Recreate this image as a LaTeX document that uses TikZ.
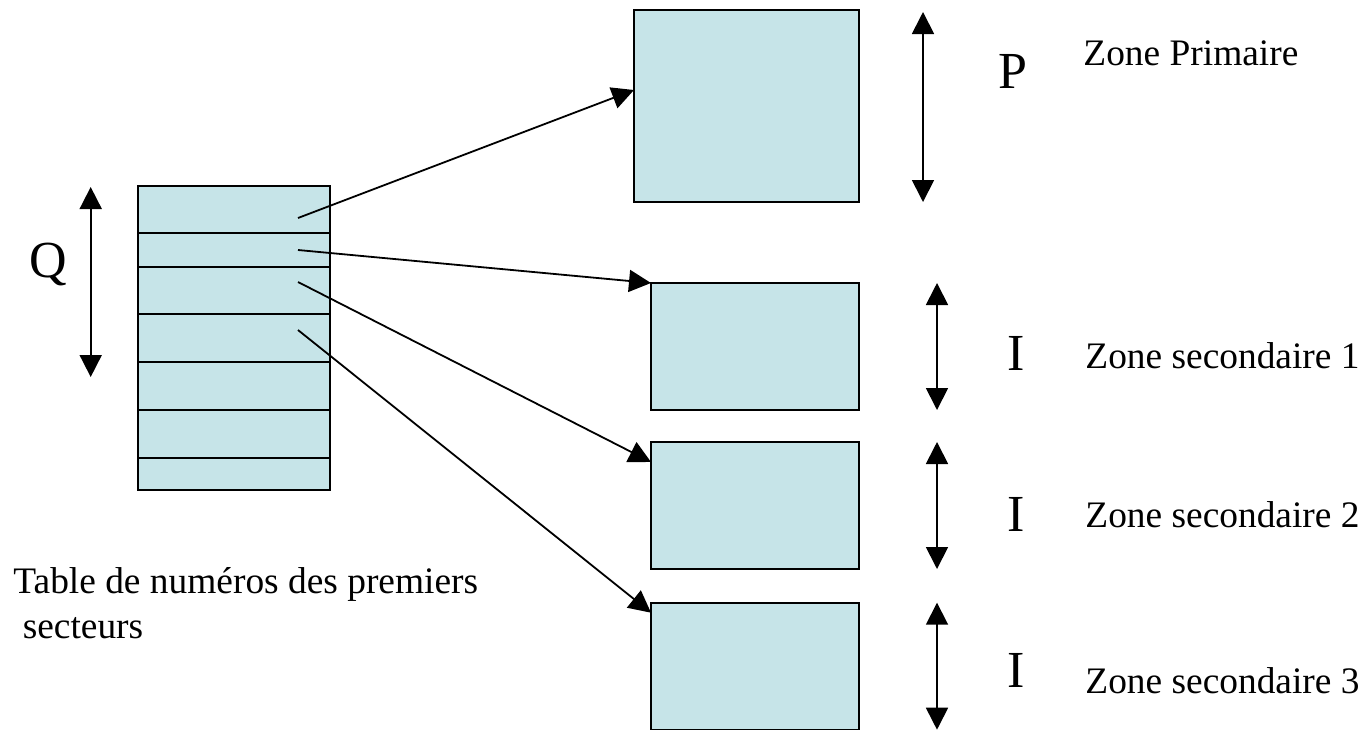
\documentclass[tikz,border=0pt]{standalone}
\usepackage{fontspec}
\setmainfont{Liberation Serif}
\usepackage{tikz}
\usetikzlibrary{arrows.meta,positioning}
\definecolor{zonefill}{RGB}{198,228,232}
\tikzset{
    zone color/.style={fill=zonefill,draw=black},
    zone style/.style={zone color,line width=0.9pt,inner sep=0pt,outer sep=0pt},
    primary zone/.style={zone style,minimum width=112.5pt,minimum height=96pt},
    secondary zone/.style={zone style,minimum width=104pt,minimum height=63.5pt},
    table style/.style={zone style,minimum width=96pt,minimum height=152pt},
    arr/.style={-{Triangle[length=11pt,width=11pt]},line width=0.9pt},
    dim arr/.style={{Triangle[length=11pt,width=11pt]}-{Triangle[length=11pt,width=11pt]},line width=0.9pt},
    size label/.style={font=\fontsize{26}{30}\selectfont,inner sep=0pt,anchor=base west},
    zone label/.style={font=\fontsize{18.7}{22.5}\selectfont,inner sep=0pt,anchor=base west},
}

\begin{document}
\begin{tikzpicture}[x=0.5pt,y=-0.5pt]
        \useasboundingbox (0,0) rectangle (1365,729);
        % table of first sectors
        \node[table style] (table) at (234,338) {};
        \foreach \y in {233.3,266.7,314.3,362.3,410,458.3}
            \draw[line width=0.9pt] (table.west |- 0,\y) -- (table.east |- 0,\y);
        \draw[dim arr] (90.7,187) -- (90.7,377);
        \node[size label] (q) at (29,277) {Q};
        \node[zone label,anchor=north west,align=left] (caption) at (13,567) {Table de numéros des premiers\\\hspace{0.25em}secteurs};
        % zones
        \node[primary zone] (primaire) at (746.5,106) {};
        \node[secondary zone] (sec1) at (755,346.5) {};
        \node[secondary zone] (sec2) at (755,505.5) {};
        \node[secondary zone] (sec3) at (755,666.2) {};
        % sizes
        \draw[dim arr] ([xshift=32pt,yshift=-1pt]primaire.north east) -- ([xshift=32pt]primaire.south east);
        \foreach \z in {sec1,sec2,sec3}
            \draw[dim arr] ([xshift=39pt]\z.north east) -- ([xshift=39pt]\z.south east);
        \node[size label] (p) at (998,88) {P};
        \node[size label] (i1) at (1007,370) {I};
        \node[size label] (i2) at (1007,531) {I};
        \node[size label] (i3) at (1007,687) {I};
        \node[zone label] (zp) at (1083,65) {Zone Primaire};
        \node[zone label] (z1) at (1085,368) {Zone secondaire 1};
        \node[zone label] (z2) at (1085,527) {Zone secondaire 2};
        \node[zone label] (z3) at (1085,693) {Zone secondaire 3};
        % pointers
        \coordinate (e1) at (298,218);
        \coordinate (e2) at (298,250);
        \coordinate (e3) at (298,282);
        \coordinate (e4) at (298,330);
        \draw[arr] (e1) -- ([yshift=8pt]primaire.west);
        \draw[arr] (e2) -- (sec1.north west);
        \draw[arr] (e3) -- ([yshift=-10pt]sec2.north west);
        \draw[arr] (e4) -- ([yshift=-5pt]sec3.north west);
\end{tikzpicture}
\end{document}
